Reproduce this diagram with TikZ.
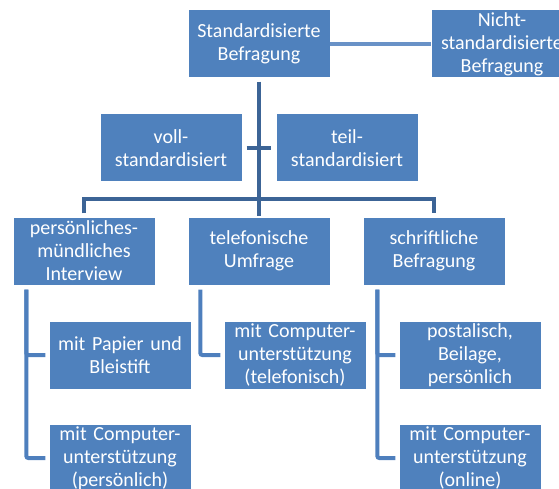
\documentclass[tikz,border=0pt]{standalone}
\usepackage{fontspec}
\setmainfont{Carlito}
\definecolor{boxblau}{RGB}{79,129,189}
\definecolor{liniedunkel}{RGB}{60,100,150}
\definecolor{linie}{RGB}{78,127,189}

\begin{document}
\begin{tikzpicture}[x=1pt,y=-1pt,
  kasten/.style={rectangle,fill=boxblau,text=white,minimum width=141pt,minimum height=67pt,
    text width=139pt,inner sep=1pt,align=center,font=\fontsize{20}{23}\selectfont},
  verbindung/.style={draw=linie,line width=4pt,rounded corners=2pt},
  oben/.style={draw=liniedunkel,line width=4.5pt}]
\useasboundingbox (0,0) rectangle (559,489);
\clip (0,0) rectangle (559,489);

% erste Ebene
\node [kasten] (std) at (259,44) {Standardisierte\\Befragung};
\node [kasten] (nicht) at (502,44) {Nicht-\\standardisierte\\Befragung};
\node [kasten] (voll) at (171,148) {voll-\\standardisiert};
\node [kasten] (teil) at (347,148) {teil-\\standardisiert};

% Befragungsarten
\node [kasten] (pers) at (84,251) {pers\"onliches-\\m\"undliches\\Interview};
\node [kasten] (tele) at (259,251) {telefonische\\Umfrage};
\node [kasten] (schr) at (434,251) {schriftliche\\Befragung};

% Unterformen
\node [kasten] (papier) at (120,355) {mit Papier und\\Bleistift};
\node [kasten] (pcomp) at (120,458) {mit Computer-\\unterst\"utzung\\(pers\"onlich)};
\node [kasten] (tcomp) at (295,355) {mit Computer-\\unterst\"utzung\\(telefonisch)};
\node [kasten] (post) at (470,355) {postalisch,\\Beilage,\\pers\"onlich};
\node [kasten] (ocomp) at (470,458) {mit Computer-\\unterst\"utzung\\(online)};

\coordinate (bus) at (259,199);

\draw [draw=linie!85!white,line width=4pt] (std.east) -- (nicht.west);
\draw [oben,shorten <=4pt,shorten >=1pt] (std.south) -- (tele.north);
\draw [oben,shorten <=5pt,shorten >=5pt] (voll.east) -- (teil.west);
\draw [oben,shorten <=4pt,shorten >=4pt] (pers.north) |- (bus) -| (schr.north);

\draw [verbindung] ([xshift=13pt,yshift=-5pt]pers.south west) |- ([xshift=-4pt]papier.west);
\draw [verbindung] ([xshift=13pt,yshift=-5pt]pers.south west) |- ([xshift=-4pt]pcomp.west);
\draw [verbindung] ([xshift=12pt,yshift=-5pt]tele.south west) |- ([xshift=-4pt]tcomp.west);
\draw [verbindung] ([xshift=14pt,yshift=-5pt]schr.south west) |- ([xshift=-4pt]post.west);
\draw [verbindung] ([xshift=14pt,yshift=-5pt]schr.south west) |- ([xshift=-4pt]ocomp.west);

\end{tikzpicture}
\end{document}
